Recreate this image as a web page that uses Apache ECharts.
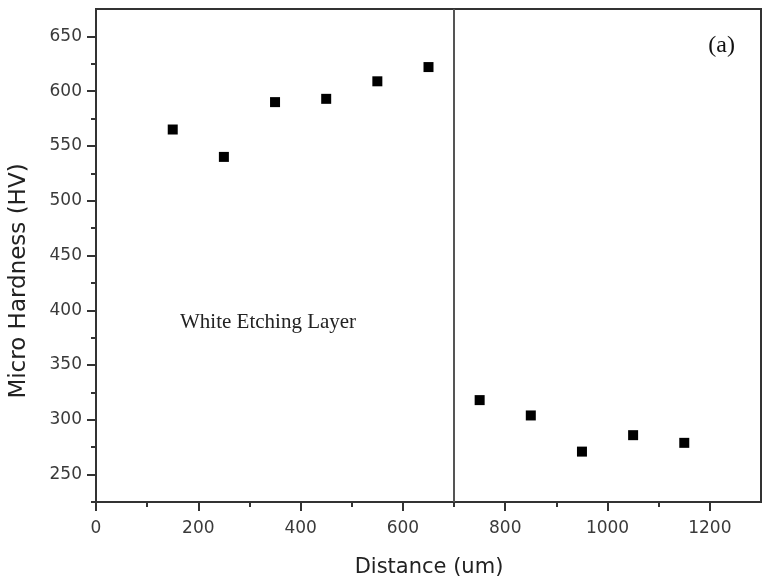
<!DOCTYPE html>
<html>
<head>
<meta charset="utf-8">
<script src="https://cdn.jsdelivr.net/npm/echarts@6/dist/echarts.min.js"></script>
<style>
html,body{margin:0;padding:0;background:#fff;}
#chart{width:766px;height:585px;}
</style>
</head>
<body>
<div id="chart"></div>
<script>
const distance = [150, 250, 350, 450, 550, 650, 750, 850, 950, 1050, 1150];
const hardness = [565, 540, 590, 593, 609, 622, 318, 304, 271, 286, 279];
const boundaryX = 700;
const xTicks = [0, 200, 400, 600, 800, 1000, 1200];
const xMinorTicks = [100, 300, 500, 700, 900, 1100];
const yTicks = [250, 300, 350, 400, 450, 500, 550, 600, 650];
const yMinorTicks = [225, 275, 325, 375, 425, 475, 525, 575, 625];
const xTitle = 'Distance (um)';
const yTitle = 'Micro Hardness (HV)';
const regionLabel = 'White Etching Layer';
const panelLabel = '(a)';

const chart = echarts.init(document.getElementById('chart'));
const axisLineStyle = {color: '#333', width: 2};
const sans = 'DejaVu Sans, Liberation Sans, Arial, sans-serif';
const serif = 'Liberation Serif, Times New Roman, serif';
const labelStyle = {color: '#3a3a3a', fontSize: 17, fontFamily: sans};
const plain = v => String(v);

const option = {
  animation: false,
  backgroundColor: '#fff',
  grid: {left: 96, right: 5, top: 9, bottom: 83, show: true, borderColor: '#333', borderWidth: 2, backgroundColor: 'transparent'},
  xAxis: [
    {
      type: 'value', min: 0, max: 1300, position: 'bottom',
      axisLine: {show: true, lineStyle: axisLineStyle, onZero: false},
      axisTick: {show: true, inside: false, length: 9, lineStyle: {color: '#333', width: 2}, customValues: xTicks},
      axisLabel: Object.assign({margin: 18, customValues: xTicks, formatter: plain}, labelStyle),
      splitLine: {show: false}
    },
    {
      type: 'value', min: 0, max: 1300, position: 'bottom',
      axisLine: {show: false, onZero: false},
      axisTick: {show: true, inside: false, length: 5, lineStyle: {color: '#333', width: 2}, customValues: xMinorTicks},
      axisLabel: {show: false},
      splitLine: {show: false}
    }
  ],
  yAxis: [
    {
      type: 'value', min: 225, max: 675, position: 'left',
      axisLine: {show: true, lineStyle: axisLineStyle, onZero: false},
      axisTick: {show: true, inside: false, length: 9, lineStyle: {color: '#333', width: 2}, customValues: yTicks},
      axisLabel: Object.assign({margin: 14, customValues: yTicks, formatter: plain}, labelStyle),
      splitLine: {show: false}
    },
    {
      type: 'value', min: 225, max: 675, position: 'left',
      axisLine: {show: false, onZero: false},
      axisTick: {show: true, inside: false, length: 5, lineStyle: {color: '#333', width: 2}, customValues: yMinorTicks},
      axisLabel: {show: false},
      splitLine: {show: false}
    }
  ],
  graphic: [
    {type: 'text', x: 429, y: 568, style: {text: xTitle, fill: '#222', fontSize: 21, fontFamily: sans, align: 'center', verticalAlign: 'middle'}},
    {type: 'text', x: 19, y: 281, rotation: Math.PI / 2, style: {text: yTitle, fill: '#222', fontSize: 23, fontFamily: sans, align: 'center', verticalAlign: 'middle'}},
    {type: 'text', x: 180, y: 322, style: {text: regionLabel, fill: '#222', fontSize: 21, fontFamily: serif, align: 'left', verticalAlign: 'middle'}},
    {type: 'text', x: 735, y: 46, style: {text: panelLabel, fill: '#111', fontSize: 24, fontFamily: serif, align: 'right', verticalAlign: 'middle'}}
  ],
  series: [
    {
      type: 'scatter',
      xAxisIndex: 0, yAxisIndex: 0,
      symbol: 'rect',
      symbolSize: 10,
      itemStyle: {color: '#000', opacity: 1},
      data: distance.map((d, i) => [d, hardness[i]]),
      markLine: {
        silent: true,
        symbol: ['none', 'none'],
        label: {show: false},
        lineStyle: {color: '#555', width: 2, type: 'solid', opacity: 1},
        data: [{xAxis: boundaryX}]
      }
    }
  ]
};
chart.setOption(option);
</script>
</body>
</html>
